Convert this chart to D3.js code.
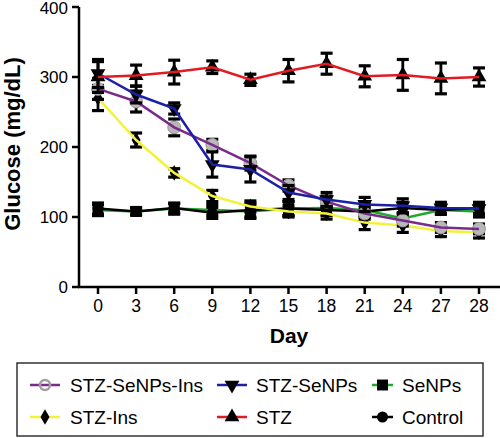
<!DOCTYPE html>
<html><head><meta charset="utf-8">
<script src="https://cdn.jsdelivr.net/npm/d3@7"></script>
<style>body{margin:0;background:#fff}svg{display:block}text{font-family:"Liberation Sans",Arial,sans-serif}</style>
</head><body>
<svg id="c" width="500" height="438"></svg>
<script>
const days = ["0","3","6","9","12","15","18","21","24","27","28"];
const yTicks = [0,100,200,300,400];
const seriesNames = ["STZ-SeNPs-Ins","STZ-SeNPs","SeNPs","STZ-Ins","STZ","Control"];
const stzSeNPsIns = [283,265,228,203,177,145,122,105,95,85,83];
const stzSeNPsInsErr = [15,15,12,8,10,8,8,8,8,7,7];
const stzSeNPs = [305,275,255,175,168,135,125,118,116,113,112];
const stzSeNPsErr = [20,12,8,18,18,10,10,10,10,8,8];
const seNPs = [110,108,112,110,108,112,113,110,98,110,108];
const seNPsErr = [8,5,8,8,10,10,10,10,8,6,8];
const stzIns = [270,210,163,130,115,108,105,92,88,80,78];
const stzInsErr = [18,10,6,8,8,8,8,10,10,8,8];
const stz = [300,302,307,314,296,309,319,301,303,298,300];
const stzErr = [22,15,17,9,8,16,15,15,22,22,13];
const control = [112,108,113,106,110,112,110,108,113,110,113];
const controlErr = [8,5,6,8,10,10,8,8,8,6,8];

const series = [
  {name:"SeNPs", vals:seNPs, err:seNPsErr, color:"#1fa82b", sym:"square"},
  {name:"Control", vals:control, err:controlErr, color:"#000", sym:"circle"},
  {name:"STZ-Ins", vals:stzIns, err:stzInsErr, color:"#f2f23a", sym:"diamond"},
  {name:"STZ-SeNPs-Ins", vals:stzSeNPsIns, err:stzSeNPsInsErr, color:"#7a2a8c", sym:"gcircle"},
  {name:"STZ-SeNPs", vals:stzSeNPs, err:stzSeNPsErr, color:"#1c20a6", sym:"tdown"},
  {name:"STZ", vals:stz, err:stzErr, color:"#e01b22", sym:"tup"}
];

const svg = d3.select("#c");
const x = d3.scalePoint().domain(days).range([98,479]);
const y = d3.scaleLinear().domain([0,400]).range([287,7]);

function symPath(sym){
  const m = {square:d3.symbolSquare, circle:d3.symbolCircle, gcircle:d3.symbolCircle, diamond:d3.symbolDiamond, tdown:d3.symbolTriangle, tup:d3.symbolTriangle};
  const size = {square:120, circle:95, gcircle:130, diamond:70, tdown:95, tup:95};
  return d3.symbol().type(m[sym]).size(size[sym])();
}
function drawSym(g, sym, cx, cy){
  const p = g.append("path").attr("d", symPath(sym))
    .attr("transform", `translate(${cx},${cy})` + (sym==="tdown" ? " rotate(180)" : ""));
  if(sym==="gcircle") p.attr("fill","#b8b8b8").attr("stroke","#999").attr("stroke-width",1);
  else p.attr("fill","#000");
  return p;
}

// axes
const ax = svg.append("g");
ax.append("line").attr("x1",79).attr("x2",79).attr("y1",y(400)).attr("y2",y(0)+1).attr("stroke","#000").attr("stroke-width",2.5);
ax.append("line").attr("x1",78).attr("x2",500).attr("y1",y(0)).attr("y2",y(0)).attr("stroke","#000").attr("stroke-width",2.5);
yTicks.forEach(t=>{
  ax.append("line").attr("x1",72).attr("x2",79).attr("y1",y(t)).attr("y2",y(t)).attr("stroke","#000").attr("stroke-width",2.5);
  ax.append("text").attr("x",68).attr("y",Math.max(y(t)+6,14)).attr("text-anchor","end").attr("font-size",17).text(t);
});
days.forEach(d=>{
  ax.append("line").attr("x1",x(d)).attr("x2",x(d)).attr("y1",y(0)).attr("y2",y(0)+7).attr("stroke","#000").attr("stroke-width",2.5);
  ax.append("text").attr("x",x(d)).attr("y",312).attr("text-anchor","middle").attr("font-size",17.5).text(d);
});
ax.append("text").attr("x",289).attr("y",343).attr("text-anchor","middle").attr("font-size",21).attr("font-weight","bold").text("Day");
ax.append("text").attr("transform","translate(20,144) rotate(-90)").attr("text-anchor","middle").attr("font-size",22).attr("font-weight","bold").text("Glucose (mg/dL)");

// series
const line = d3.line().x((v,i)=>x(days[i])).y(v=>y(v));
series.forEach(s=>{
  const g = svg.append("g");
  s.vals.forEach((v,i)=>{
    const cx = x(days[i]), e = s.err[i];
    g.append("line").attr("x1",cx).attr("x2",cx).attr("y1",y(v+e)).attr("y2",y(v-e)).attr("stroke","#000").attr("stroke-width",2.8);
    [v+e, v-e].forEach(w=>g.append("line").attr("x1",cx-6).attr("x2",cx+6).attr("y1",y(w)).attr("y2",y(w)).attr("stroke","#000").attr("stroke-width",3.2));
  });
  s.vals.forEach((v,i)=>drawSym(g, s.sym, x(days[i]), y(v)));
  g.append("path").attr("d", line(s.vals)).attr("fill","none").attr("stroke", s.color).attr("stroke-width",2.5);
});

// legend
svg.append("rect").attr("x",17).attr("y",363).attr("width",466).attr("height",73).attr("fill","#fff").attr("stroke","#333").attr("stroke-width",1.5);
const legendItems = [
  {name:"STZ-SeNPs-Ins", col:0,row:0}, {name:"STZ-SeNPs", col:1,row:0}, {name:"SeNPs", col:2,row:0},
  {name:"STZ-Ins", col:0,row:1}, {name:"STZ", col:1,row:1}, {name:"Control", col:2,row:1}
];
const colX = [[30,60,70],[217,247,256],[372,393,402]];
const rowY = [385,417];
legendItems.forEach(it=>{
  const s = series.find(d=>d.name===it.name);
  const [x1,x2,tx] = colX[it.col];
  const cy = rowY[it.row];
  const g = svg.append("g");
  g.append("line").attr("x1",x1).attr("x2",x2).attr("y1",cy).attr("y2",cy).attr("stroke",s.color).attr("stroke-width",2.5);
  if(s.sym==="gcircle"){
    g.append("circle").attr("cx",(x1+x2)/2).attr("cy",cy).attr("r",5).attr("fill","none").attr("stroke","#a0a0a0").attr("stroke-width",2.5);
  } else drawSym(g, s.sym, (x1+x2)/2, cy);
  g.append("text").attr("x",tx).attr("y",cy+6.5).attr("font-size",19).text(s.name);
});
</script>
</body></html>
